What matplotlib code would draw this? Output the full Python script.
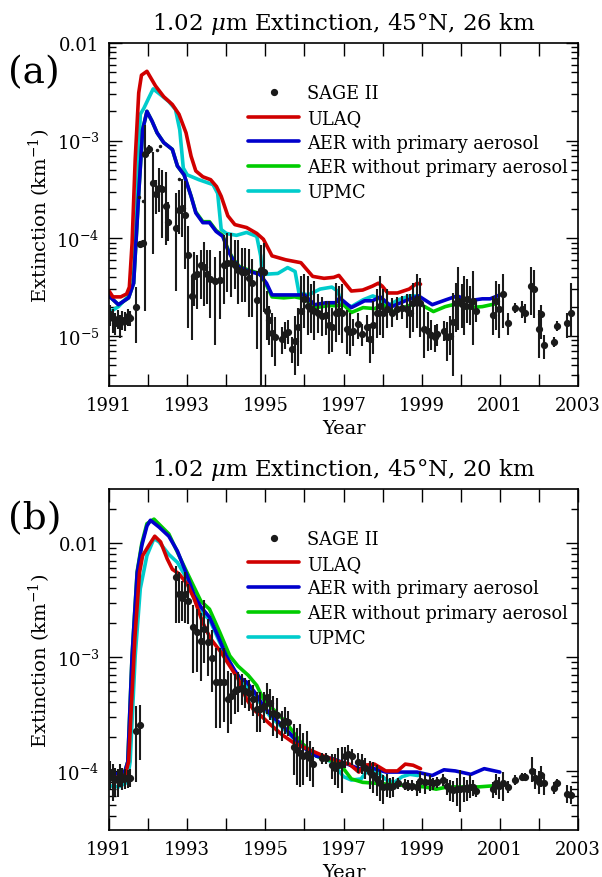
import numpy as np
import matplotlib
matplotlib.use("Agg")
import matplotlib.pyplot as plt
from matplotlib.ticker import FixedLocator, FixedFormatter, LogLocator, NullFormatter

plt.rcParams['font.family'] = ['DejaVu Serif']
plt.rcParams['mathtext.fontset'] = 'dejavuserif'

# ---------------- Panel (a): 26 km ----------------
# SAGE II: year, log10(extinction), error down (decades), error up (decades)
sage_a_year = [1991.03, 1991.09, 1991.16, 1991.22, 1991.28, 1991.34, 1991.41, 1991.48, 1991.54,
               1991.70, 1991.78, 1991.87, 1991.93, 1992.03, 1992.12, 1992.19, 1992.28, 1992.36,
               1992.45, 1992.52, 1992.71, 1992.78, 1992.86, 1992.94, 1993.03, 1993.12, 1993.18,
               1993.24, 1993.35, 1993.44, 1993.51, 1993.59, 1993.70, 1993.83, 1993.93, 1994.02,
               1994.13, 1994.22, 1994.30, 1994.39, 1994.47, 1994.59, 1994.67, 1994.78, 1994.88,
               1994.97, 1995.04, 1995.10, 1995.17, 1995.25, 1995.42, 1995.50, 1995.59, 1995.67,
               1995.76, 1995.84, 1995.91, 1996.00, 1996.08, 1996.17, 1996.25, 1996.35, 1996.46,
               1996.54, 1996.63, 1996.71, 1996.80, 1996.88, 1996.97, 1997.08, 1997.17, 1997.25,
               1997.36, 1997.46, 1997.59, 1997.68, 1997.76, 1997.85, 1997.93, 1998.02, 1998.10,
               1998.23, 1998.36, 1998.49, 1998.62, 1998.70, 1998.79, 1998.87, 1998.96, 1999.07,
               1999.17, 1999.25, 1999.33, 1999.40, 1999.56, 1999.64, 1999.73, 1999.81, 1999.87,
               1999.94, 2000.02, 2000.09, 2000.15, 2000.24, 2000.32, 2000.39, 2000.82, 2000.90,
               2000.99, 2001.07, 2001.22, 2001.39, 2001.56, 2001.65, 2001.80, 2001.88, 2001.99,
               2002.06, 2002.14, 2002.39, 2002.47, 2002.73, 2002.81]
sage_a_log = [-4.78, -4.82, -4.87, -4.83, -4.87, -4.84, -4.85, -4.80, -4.82,
              -4.70, -4.06, -4.05, -3.14, -3.09, -3.43, -3.55, -3.48, -3.50,
              -3.67, -3.83, -3.89, -3.71, -3.69, -3.76, -4.17, -4.59, -4.39,
              -4.37, -4.27, -4.29, -4.37, -4.42, -4.44, -4.43, -4.27, -4.25,
              -4.25, -4.27, -4.32, -4.35, -4.35, -4.41, -4.46, -4.63, -4.32,
              -4.35, -4.74, -4.84, -4.97, -5.01, -5.03, -4.98, -4.96, -5.13,
              -5.05, -4.91, -4.74, -4.62, -4.69, -4.72, -4.74, -4.77, -4.80,
              -4.79, -4.89, -4.91, -4.76, -4.74, -4.77, -4.93, -4.96, -4.95,
              -4.88, -4.98, -4.91, -5.03, -4.89, -4.77, -4.69, -4.77, -4.72,
              -4.76, -4.72, -4.71, -4.72, -4.77, -4.66, -4.62, -4.66, -4.93,
              -4.95, -4.99, -5.01, -4.98, -4.95, -5.01, -5.00, -4.86, -4.66,
              -4.64, -4.67, -4.69, -4.62, -4.69, -4.64, -4.74, -4.79, -4.64,
              -4.72, -4.57, -4.87, -4.71, -4.72, -4.77, -4.49, -4.52, -4.93,
              -4.78, -5.09, -5.06, -4.90, -4.87, -4.76]
sage_a_dn = [0.12, 0.15, 0.12, 0.10, 0.15, 0.10, 0.10, 0.10, 0.08,
             0.37, 0.03, 0.03, 1.60, 0.05, 0.73, 0.20, 0.25, 0.50,
             0.40, 0.20, 0.65, 0.25, 0.30, 0.55, 0.75, 0.45, 0.30,
             0.35, 0.35, 0.40, 0.30, 0.40, 0.65, 0.40, 0.40, 0.30,
             0.35, 0.25, 0.35, 0.30, 0.30, 0.40, 0.35, 0.50, 1.40,
             0.40, 0.30, 0.25, 0.25, 0.30, 0.15, 0.15, 0.12, 0.15,
             0.35, 0.40, 0.45, 0.30, 0.30, 0.25, 0.30, 0.20, 0.20,
             0.20, 0.30, 0.25, 0.30, 0.25, 0.30, 0.25, 0.25, 0.15,
             0.15, 0.12, 0.15, 0.25, 0.30, 0.25, 0.30, 0.25, 0.20,
             0.15, 0.12, 0.12, 0.20, 0.25, 0.30, 0.30, 0.35, 0.30,
             0.20, 0.15, 0.15, 0.12, 0.10, 0.25, 0.20, 0.55, 0.30,
             0.30, 0.25, 0.30, 0.25, 0.20, 0.45, 0.12, 0.20, 0.30,
             0.30, 0.35, 0.12, 0.05, 0.10, 0.10, 0.30, 0.30, 0.30,
             0.25, 0.15, 0.05, 0.05, 0.15, 0.25]
sage_a_up = [0.10, 0.10, 0.10, 0.10, 0.08, 0.10, 0.10, 0.08, 0.08,
             0.20, 0.03, 0.03, 0.30, 0.05, 0.31, 0.15, 0.20, 0.20,
             0.35, 0.20, 0.35, 0.20, 0.30, 0.35, 0.30, 0.20, 0.25,
             0.20, 0.15, 0.25, 0.25, 0.30, 0.25, 0.30, 0.30, 0.30,
             0.30, 0.25, 0.30, 0.25, 0.25, 0.30, 0.25, 0.30, 0.25,
             0.30, 0.20, 0.15, 0.20, 0.20, 0.12, 0.12, 0.12, 0.12,
             0.25, 0.20, 0.35, 0.25, 0.30, 0.25, 0.30, 0.20, 0.20,
             0.15, 0.25, 0.20, 0.30, 0.25, 0.30, 0.20, 0.20, 0.12,
             0.12, 0.10, 0.12, 0.15, 0.25, 0.25, 0.30, 0.25, 0.20,
             0.15, 0.12, 0.12, 0.15, 0.20, 0.20, 0.25, 0.25, 0.25,
             0.20, 0.15, 0.12, 0.10, 0.10, 0.15, 0.20, 0.30, 0.20,
             0.35, 0.20, 0.30, 0.20, 0.20, 0.30, 0.10, 0.20, 0.20,
             0.25, 0.20, 0.10, 0.05, 0.08, 0.10, 0.20, 0.20, 0.20,
             0.10, 0.10, 0.05, 0.05, 0.10, 0.30]
# small SAGE II dots without error bars
sage_a_dot_year = [1991.76, 1991.88, 1992.23, 1992.30, 1992.79]
sage_a_dot_log = [-3.58, -3.62, -3.10, -3.05, -3.39]

ulaq_a_year = [1991.00, 1991.10, 1991.30, 1991.45, 1991.52, 1991.59, 1991.67, 1991.76, 1991.83, 1991.97,
               1992.19, 1992.40, 1992.62, 1992.79, 1992.97, 1993.10, 1993.22, 1993.40, 1993.60, 1993.75,
               1993.87, 1994.04, 1994.22, 1994.52, 1994.78, 1994.95, 1995.17, 1995.52, 1995.91, 1996.21,
               1996.50, 1996.75, 1996.88, 1997.00, 1997.20, 1997.49, 1997.74, 1997.89, 1997.99, 1998.13,
               1998.38, 1998.68, 1998.88, 1998.97]
ulaq_a_log = [-4.54, -4.60, -4.60, -4.57, -4.50, -4.05, -3.19, -2.51, -2.33, -2.29,
              -2.44, -2.55, -2.63, -2.73, -2.92, -3.16, -3.31, -3.37, -3.40, -3.47,
              -3.57, -3.77, -3.86, -3.89, -3.95, -4.01, -4.18, -4.22, -4.25, -4.39,
              -4.41, -4.40, -4.38, -4.44, -4.54, -4.53, -4.49, -4.46, -4.49, -4.56,
              -4.56, -4.52, -4.46, -4.47]

aer_a_year = [1991.00, 1991.24, 1991.50, 1991.63, 1991.76, 1991.86, 1991.97, 1992.10, 1992.23, 1992.40,
              1992.62, 1992.75, 1992.92, 1993.10, 1993.22, 1993.40, 1993.57, 1993.74, 1993.91, 1994.04,
              1994.17, 1994.34, 1994.60, 1994.86, 1995.03, 1995.17, 1995.47, 1995.70, 1996.00, 1996.26,
              1996.55, 1996.80, 1996.90, 1997.20, 1997.54, 1997.74, 1997.94, 1998.23, 1998.58, 1998.92,
              1999.27, 1999.62, 1999.91, 2000.20, 2000.55, 2000.75, 2001.00]
aer_a_log = [-4.59, -4.68, -4.61, -4.46, -3.54, -2.89, -2.70, -2.80, -2.92, -3.02,
             -3.09, -3.26, -3.35, -3.57, -3.74, -3.84, -3.84, -3.93, -3.98, -4.12,
             -4.22, -4.30, -4.34, -4.37, -4.46, -4.58, -4.58, -4.58, -4.58, -4.68,
             -4.66, -4.66, -4.61, -4.71, -4.64, -4.64, -4.60, -4.70, -4.64, -4.59,
             -4.68, -4.63, -4.59, -4.64, -4.62, -4.62, -4.58]

aernp_a_year = [1991.00, 1991.24, 1991.50, 1991.63, 1991.76, 1991.86, 1991.97, 1992.10, 1992.23, 1992.40,
                1992.62, 1992.75, 1992.92, 1993.10, 1993.22, 1993.40, 1993.57, 1993.74, 1993.91, 1994.04,
                1994.17, 1994.34, 1994.60, 1994.86, 1995.03, 1995.17, 1995.47, 1995.75, 1996.00, 1996.30,
                1996.60, 1996.85, 1997.00, 1997.20, 1997.50, 1997.80, 1998.00, 1998.25, 1998.60, 1998.90,
                1999.30, 1999.60, 1999.90, 2000.20, 2000.55, 2000.90]
aernp_a_log = [-4.59, -4.68, -4.61, -4.46, -3.54, -2.89, -2.70, -2.80, -2.92, -3.02,
               -3.09, -3.26, -3.35, -3.57, -3.73, -3.83, -3.83, -3.92, -3.97, -4.11,
               -4.21, -4.29, -4.33, -4.36, -4.48, -4.60, -4.61, -4.60, -4.62, -4.71,
               -4.69, -4.69, -4.68, -4.76, -4.71, -4.72, -4.68, -4.75, -4.70, -4.66,
               -4.75, -4.70, -4.67, -4.71, -4.70, -4.67]

upmc_a_year = [1991.00, 1991.24, 1991.50, 1991.63, 1991.72, 1991.80, 1991.89, 1992.02, 1992.13, 1992.32,
               1992.53, 1992.70, 1992.81, 1992.90, 1993.00, 1993.30, 1993.66, 1993.78, 1993.87, 1994.00,
               1994.26, 1994.52, 1994.78, 1994.88, 1994.92, 1995.32, 1995.57, 1995.76, 1995.86, 1996.10,
               1996.40, 1996.70, 1996.85, 1996.95, 1997.20, 1997.50, 1997.75, 1997.92, 1998.10, 1998.40,
               1998.70, 1998.90]
upmc_a_log = [-4.76, -4.70, -4.59, -4.39, -3.54, -2.73, -2.67, -2.56, -2.47, -2.53,
              -2.60, -2.68, -2.89, -3.28, -3.35, -3.40, -3.45, -3.54, -3.91, -3.95,
              -3.97, -3.94, -3.98, -4.18, -4.37, -4.36, -4.30, -4.34, -4.56, -4.58,
              -4.52, -4.50, -4.54, -4.66, -4.70, -4.63, -4.59, -4.62, -4.70, -4.63,
              -4.59, -4.59]

# ---------------- Panel (b): 20 km ----------------
sage_b_year = [1991.03, 1991.09, 1991.16, 1991.22, 1991.28, 1991.34, 1991.41, 1991.48, 1991.54,
               1991.70, 1991.78, 1992.71, 1992.79, 1992.86, 1992.95, 1993.01, 1993.14, 1993.24,
               1993.35, 1993.44, 1993.53, 1993.64, 1993.74, 1993.83, 1993.93, 1994.04, 1994.13,
               1994.22, 1994.30, 1994.39, 1994.47, 1994.59, 1994.69, 1994.78, 1994.86, 1994.97,
               1995.05, 1995.12, 1995.20, 1995.29, 1995.42, 1995.50, 1995.59, 1995.72, 1995.80,
               1995.89, 1995.97, 1996.06, 1996.14, 1996.23, 1996.44, 1996.54, 1996.70, 1996.78,
               1996.87, 1996.95, 1997.04, 1997.12, 1997.21, 1997.38, 1997.46, 1997.55, 1997.68,
               1997.76, 1997.85, 1997.93, 1998.02, 1998.10, 1998.19, 1998.27, 1998.40, 1998.57,
               1998.66, 1998.74, 1998.87, 1998.96, 1999.09, 1999.21, 1999.30, 1999.38, 1999.55,
               1999.64, 1999.73, 1999.81, 1999.90, 1999.98, 2000.07, 2000.15, 2000.24, 2000.32,
               2000.39, 2000.82, 2000.90, 2000.99, 2001.07, 2001.22, 2001.39, 2001.56, 2001.65,
               2001.82, 2001.90, 2001.99, 2002.06, 2002.14, 2002.39, 2002.47, 2002.73, 2002.81]
sage_b_log = [-4.01, -4.06, -4.07, -4.08, -4.04, -4.07, -4.06, -4.07, -4.06,
              -3.65, -3.60, -2.30, -2.45, -2.48, -2.45, -2.51, -2.74, -2.78,
              -2.86, -2.75, -2.87, -3.01, -3.22, -3.22, -3.22, -3.37, -3.34,
              -3.30, -3.28, -3.27, -3.30, -3.32, -3.37, -3.46, -3.46, -3.43,
              -3.35, -3.40, -3.49, -3.51, -3.59, -3.56, -3.57, -3.79, -3.82,
              -3.84, -3.87, -3.85, -3.89, -3.94, -3.89, -3.89, -3.95, -3.97,
              -3.95, -3.94, -3.87, -3.85, -3.87, -3.92, -3.93, -3.97, -4.01,
              -4.04, -4.07, -4.11, -4.14, -4.13, -4.14, -4.13, -4.11, -4.12,
              -4.13, -4.13, -4.14, -4.09, -4.10, -4.10, -4.11, -4.10, -4.08,
              -4.13, -4.16, -4.17, -4.16, -4.16, -4.15, -4.16, -4.14, -4.14,
              -4.18, -4.16, -4.11, -4.13, -4.11, -4.14, -4.08, -4.05, -4.05,
              -4.00, -4.06, -4.10, -4.04, -4.11, -4.15, -4.11, -4.20, -4.21]
sage_b_dn = [0.15, 0.20, 0.15, 0.15, 0.10, 0.10, 0.10, 0.08, 0.08,
             0.45, 0.30, 0.40, 0.25, 0.20, 0.25, 0.20, 0.40, 0.35,
             0.35, 0.30, 0.30, 0.30, 0.40, 0.40, 0.35, 0.30, 0.25,
             0.20, 0.20, 0.15, 0.15, 0.15, 0.15, 0.20, 0.20, 0.15,
             0.15, 0.15, 0.20, 0.20, 0.15, 0.12, 0.12, 0.25, 0.30,
             0.30, 0.25, 0.20, 0.20, 0.20, 0.05, 0.05, 0.12, 0.15,
             0.20, 0.25, 0.10, 0.10, 0.08, 0.10, 0.10, 0.10, 0.15,
             0.15, 0.15, 0.15, 0.15, 0.10, 0.10, 0.10, 0.05, 0.05,
             0.05, 0.05, 0.08, 0.10, 0.10, 0.08, 0.06, 0.05, 0.05,
             0.08, 0.10, 0.10, 0.15, 0.20, 0.12, 0.10, 0.10, 0.08,
             0.05, 0.08, 0.10, 0.12, 0.15, 0.05, 0.04, 0.03, 0.03,
             0.10, 0.10, 0.10, 0.10, 0.10, 0.05, 0.04, 0.08, 0.08]
sage_b_up = [0.10, 0.12, 0.10, 0.10, 0.10, 0.10, 0.08, 0.08, 0.08,
             0.22, 0.18, 0.10, 0.20, 0.15, 0.20, 0.15, 0.20, 0.20,
             0.25, 0.25, 0.20, 0.25, 0.30, 0.30, 0.30, 0.25, 0.20,
             0.15, 0.15, 0.12, 0.12, 0.12, 0.12, 0.15, 0.15, 0.12,
             0.12, 0.12, 0.15, 0.15, 0.12, 0.12, 0.10, 0.20, 0.20,
             0.25, 0.20, 0.20, 0.15, 0.15, 0.05, 0.05, 0.10, 0.12,
             0.15, 0.15, 0.08, 0.08, 0.06, 0.08, 0.08, 0.08, 0.10,
             0.12, 0.12, 0.12, 0.10, 0.10, 0.08, 0.08, 0.05, 0.05,
             0.05, 0.05, 0.05, 0.08, 0.08, 0.06, 0.05, 0.05, 0.05,
             0.06, 0.08, 0.08, 0.10, 0.17, 0.10, 0.08, 0.10, 0.06,
             0.05, 0.06, 0.08, 0.08, 0.10, 0.05, 0.04, 0.03, 0.03,
             0.12, 0.08, 0.10, 0.08, 0.08, 0.05, 0.04, 0.08, 0.08]

ulaq_b_year = [1991.00, 1991.25, 1991.41, 1991.50, 1991.66, 1991.78, 1991.86, 1992.02, 1992.17, 1992.32,
               1992.49, 1992.62, 1992.79, 1993.00, 1993.18, 1993.40, 1993.60, 1993.87, 1994.09, 1994.30,
               1994.52, 1994.69, 1994.90, 1995.12, 1995.42, 1995.71, 1996.10, 1996.50, 1996.90, 1997.15,
               1997.39, 1997.54, 1997.79, 1998.08, 1998.38, 1998.58, 1998.78, 1998.97]
ulaq_b_log = [-4.04, -4.06, -4.04, -3.92, -2.84, -2.26, -2.11, -2.02, -1.94, -1.99,
              -2.14, -2.23, -2.27, -2.36, -2.49, -2.70, -2.84, -2.96, -3.08, -3.19,
              -3.37, -3.46, -3.52, -3.59, -3.68, -3.75, -3.81, -3.87, -3.92, -3.94,
              -4.01, -3.95, -3.94, -4.00, -4.00, -3.94, -3.95, -3.98]

aer_b_year = [1991.00, 1991.25, 1991.41, 1991.48, 1991.59, 1991.72, 1991.84, 1991.97, 1992.06, 1992.28,
              1992.53, 1992.75, 1992.97, 1993.18, 1993.35, 1993.57, 1993.78, 1994.00, 1994.22, 1994.34,
              1994.52, 1994.73, 1994.95, 1995.12, 1995.52, 1995.91, 1996.31, 1996.70, 1997.10, 1997.39,
              1997.69, 1998.08, 1998.48, 1998.88, 1999.27, 1999.57, 1999.86, 2000.26, 2000.60, 2001.00]
aer_b_log = [-4.01, -4.03, -4.00, -3.92, -2.99, -2.26, -2.02, -1.85, -1.80, -1.86,
             -1.94, -2.07, -2.26, -2.46, -2.56, -2.65, -2.81, -2.99, -3.12, -3.18,
             -3.22, -3.31, -3.43, -3.50, -3.63, -3.78, -3.87, -3.89, -3.94, -3.98,
             -3.97, -4.01, -4.01, -4.01, -4.04, -3.99, -4.00, -4.03, -3.98, -4.01]

aernp_b_year = [1991.00, 1991.25, 1991.41, 1991.48, 1991.59, 1991.72, 1991.84, 1991.97, 1992.15, 1992.53,
                1992.97, 1993.35, 1993.57, 1993.83, 1994.09, 1994.30, 1994.56, 1994.78, 1994.95, 1995.12,
                1995.52, 1995.91, 1996.31, 1996.70, 1997.00, 1997.20, 1997.49, 1997.89, 1998.28, 1998.68,
                1999.07, 1999.37, 1999.67, 2000.06, 2000.46, 2000.85]
aernp_b_log = [-4.01, -4.03, -4.00, -3.92, -2.99, -2.25, -2.00, -1.83, -1.79, -1.92,
               -2.24, -2.51, -2.58, -2.78, -2.99, -3.08, -3.16, -3.25, -3.37, -3.43,
               -3.57, -3.75, -3.87, -3.91, -3.98, -4.07, -4.10, -4.11, -4.12, -4.13,
               -4.14, -4.16, -4.14, -4.14, -4.14, -4.13]

upmc_b_year = [1991.00, 1991.25, 1991.46, 1991.54, 1991.67, 1991.80, 1991.97, 1992.15, 1992.28, 1992.53,
               1992.75, 1992.97, 1993.18, 1993.40, 1993.57, 1993.83, 1994.09, 1994.34, 1994.60, 1994.86,
               1995.12, 1995.50, 1995.90, 1996.30, 1996.70, 1997.00, 1997.20, 1997.45, 1997.60, 1997.75,
               1997.90, 1998.10, 1998.30, 1998.50, 1998.70, 1998.90]
upmc_b_log = [-4.13, -4.14, -4.10, -3.92, -2.99, -2.40, -2.11, -1.96, -1.99, -2.10,
              -2.17, -2.30, -2.49, -2.62, -2.67, -2.87, -3.06, -3.19, -3.28, -3.40,
              -3.52, -3.64, -3.77, -3.87, -3.92, -4.05, -4.08, -4.07, -4.00, -3.98,
              -4.02, -4.08, -4.10, -4.05, -4.03, -4.04]

titles = [r"1.02 $\mu$m Extinction, 45°N, 26 km", r"1.02 $\mu$m Extinction, 45°N, 20 km"]
panel_labels = ["(a)", "(b)"]
series_labels = ["SAGE II", "ULAQ", "AER with primary aerosol", "AER without primary aerosol", "UPMC"]
series_colors = ["#1a1a1a", "#d00000", "#0000cc", "#00cc00", "#00cccc"]
xtick_years = [1991, 1993, 1995, 1997, 1999, 2001, 2003]
ytick_a = [1e-2, 1e-3, 1e-4, 1e-5]
ytick_a_labels = ["0.01", r"$10^{-3}$", r"$10^{-4}$", r"$10^{-5}$"]
ytick_b = [1e-2, 1e-3, 1e-4]
ytick_b_labels = ["0.01", r"$10^{-3}$", r"$10^{-4}$"]
ylim_a = (3.07e-6, 1e-2)
ylim_b = (3.03e-5, 2.98e-2)

fig = plt.figure(figsize=(6.02, 8.78), dpi=100)
ax_a = fig.add_axes([0.1811, 0.5592, 0.7791, 0.3907])
ax_b = fig.add_axes([0.1811, 0.0535, 0.7791, 0.3884])

panels = [
    (ax_a, sage_a_year, sage_a_log, sage_a_dn, sage_a_up,
     [(ulaq_a_year, ulaq_a_log), (aer_a_year, aer_a_log), (aernp_a_year, aernp_a_log), (upmc_a_year, upmc_a_log)],
     ytick_a, ytick_a_labels, ylim_a),
    (ax_b, sage_b_year, sage_b_log, sage_b_dn, sage_b_up,
     [(ulaq_b_year, ulaq_b_log), (aer_b_year, aer_b_log), (aernp_b_year, aernp_b_log), (upmc_b_year, upmc_b_log)],
     ytick_b, ytick_b_labels, ylim_b),
]

draw_order = [3, 2, 1, 0]   # UPMC, AER w/o, AER with, ULAQ
for i, (ax, sy, sl, sd, su, models, yt, ytl, ylim) in enumerate(panels):
    handles = [None] * 5
    for k in draw_order:
        yrs, lg = models[k]
        h, = ax.plot(yrs, 10.0 ** np.array(lg), color=series_colors[k + 1], lw=2.6,
                     solid_joinstyle='round', solid_capstyle='round', zorder=2 + 0.1 * (3 - k))
        handles[k + 1] = h
    sl_arr = np.array(sl)
    val = 10.0 ** sl_arr
    lo = val - 10.0 ** (sl_arr - np.array(sd))
    hi = 10.0 ** (sl_arr + np.array(su)) - val
    ax.errorbar(sy, val, yerr=[lo, hi], fmt='o', color=series_colors[0], ms=4.2,
                elinewidth=1.5, capsize=0, zorder=4)
    handles[0] = ax.plot([], [], 'o', color=series_colors[0], ms=4.2)[0]
    if i == 0:
        ax.plot(sage_a_dot_year, 10.0 ** np.array(sage_a_dot_log), 'o', color=series_colors[0],
                ms=1.5, zorder=4)

    ax.set_yscale('log')
    ax.set_xlim(1991, 2003)
    ax.set_ylim(*ylim)
    ax.set_xticks(list(range(1991, 2004)))
    ax.set_xticklabels([str(y) if y in xtick_years else "" for y in range(1991, 2004)], fontsize=13)
    ax.yaxis.set_major_locator(FixedLocator(yt))
    ax.yaxis.set_major_formatter(FixedFormatter(ytl))
    ax.yaxis.set_minor_locator(LogLocator(base=10, subs=np.arange(2, 10)))
    ax.yaxis.set_minor_formatter(NullFormatter())
    ax.tick_params(axis='both', which='major', direction='in', length=9, width=1.0,
                   top=True, right=True, labelsize=13, pad=7)
    ax.tick_params(axis='y', which='minor', direction='in', length=5, width=1.0, right=True, left=True)
    for sp in ax.spines.values():
        sp.set_linewidth(1.2)
    ax.set_ylabel(r"Extinction (km$^{-1}$)", fontsize=14, labelpad=2)
    ax.set_xlabel("Year", fontsize=14, labelpad=4)
    ax.set_title(titles[i], fontsize=16.5, pad=10)
    ax.text(-0.215, 0.915, panel_labels[i], transform=ax.transAxes, fontsize=27,
            ha='left', va='center', fontweight='light')
    ax.legend(handles, series_labels, loc='upper left', bbox_to_anchor=(0.296, 0.88),
              frameon=False, fontsize=12.8, handlelength=2.9, handletextpad=0.45,
              labelspacing=0.38, borderaxespad=0, borderpad=0)

fig.savefig("out.png", dpi=100)
